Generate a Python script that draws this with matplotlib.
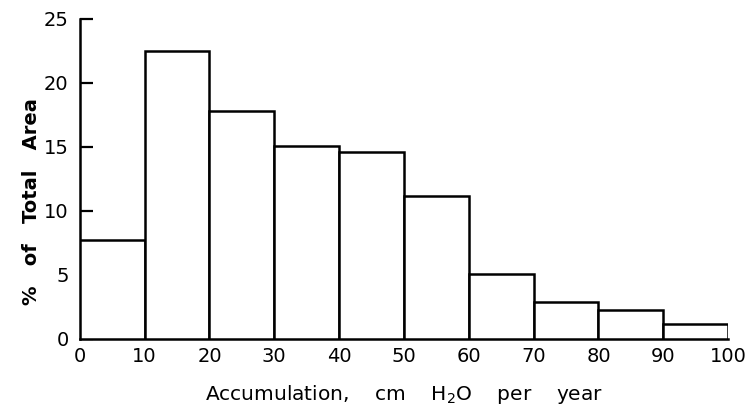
import matplotlib
matplotlib.use("Agg")
import matplotlib.pyplot as plt

# bin edges and percent of total area for each 10 cm bin
bin_edges = [0, 10, 20, 30, 40, 50, 60, 70, 80, 90, 100]
pct_area = [7.7, 22.5, 17.8, 15.1, 14.6, 11.2, 5.1, 2.85, 2.3, 1.2]
y_ticks = [0, 5, 10, 15, 20, 25]

plt.rcParams['font.family'] = ['DejaVu Sans']

fig = plt.figure(figsize=(7.46, 4.18), dpi=100)
ax = fig.add_axes([0.107, 0.189, 0.869, 0.766])

lefts = bin_edges[:-1]
widths = [b - a for a, b in zip(bin_edges[:-1], bin_edges[1:])]
ax.bar(lefts, pct_area, width=widths, align='edge',
       facecolor='white', edgecolor='black', linewidth=1.8, zorder=3)

ax.set_xlim(0, 100)
ax.set_ylim(0, 25)
ax.set_xticks(bin_edges)
ax.set_yticks(y_ticks)
ax.tick_params(axis='x', length=0, pad=6, labelsize=14)
ax.tick_params(axis='y', direction='in', length=9, width=1.6, pad=8, labelsize=14)

for side in ['top', 'right']:
    ax.spines[side].set_visible(False)
ax.spines['left'].set_linewidth(1.8)
ax.spines['bottom'].set_linewidth(1.8)

ax.set_xlabel(r'Accumulation,    cm    H$_2$O    per    year',
              fontsize=14.5, labelpad=12)
ax.set_ylabel('%   of   Total   Area', fontsize=14, fontweight='bold')
ax.yaxis.set_label_coords(-0.075, 0.43)
ax.yaxis.label.set_verticalalignment('center')

fig.savefig('out.png', dpi=100)
